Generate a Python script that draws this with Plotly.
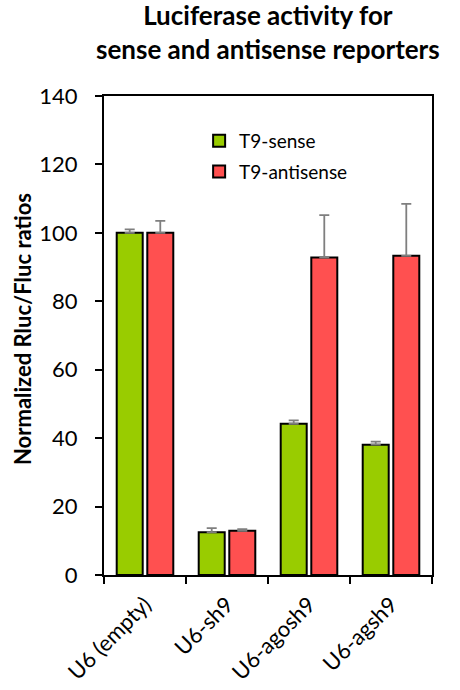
import plotly.graph_objects as go

categories = ["U6 (empty)", "U6-sh9", "U6-agosh9", "U6-agsh9"]
sense_values = [100, 12.5, 44.2, 38.1]
sense_err = [1.0, 1.2, 1.0, 0.9]
antisense_values = [100, 12.9, 92.8, 93.3]
antisense_err = [3.5, 0.5, 12.4, 15.2]
series_names = ["T9-sense", "T9-antisense"]
y_ticks = [0, 20, 40, 60, 80, 100, 120, 140]
title_lines = ["Luciferase activity for", "sense and antisense reporters"]
y_title = "Normalized Rluc/Fluc ratios"

FONT = "Lato"
GREEN = "#99CC00"
RED = "#FF5050"
ERR = "#7F7F7F"

fig = go.Figure()
for i, (name, vals, errs, col) in enumerate([
    (series_names[0], sense_values, sense_err, GREEN),
    (series_names[1], antisense_values, antisense_err, RED),
]):
    fig.add_trace(go.Bar(
        x=categories, y=vals, name=name, legendgroup="g%d" % i,
        marker=dict(color=col, line=dict(color="black", width=2)),
        error_y=dict(type="data", symmetric=False, array=errs,
                     arrayminus=[0] * len(errs), color=ERR,
                     thickness=1.8, width=5),
    ))

PL, PR, PT, PB = 104, 28, 96, 115
plot_h = 690 - PT - PB
plot_w = 460 - PL - PR

annotations = [
    dict(text="<b>%s<br>%s</b>" % (title_lines[0], title_lines[1]),
         xref="paper", yref="paper",
         x=0.5, y=(690 - PB - 32) / plot_h, xanchor="center", yanchor="middle",
         showarrow=False, font=dict(family=FONT, size=26, color="black")),
    dict(text="<b>%s</b>" % y_title, xref="paper", yref="paper",
         x=(22 - PL) / plot_w, y=(690 - PB - 329) / plot_h,
         xanchor="center", yanchor="middle", textangle=-90,
         showarrow=False, font=dict(family=FONT, size=22, color="black")),
]

fig.update_layout(
    width=460, height=690,
    margin=dict(l=PL, r=PR, t=PT, b=PB),
    paper_bgcolor="white", plot_bgcolor="white",
    barmode="group", bargap=0.254, bargroupgap=0.15,
    font=dict(family=FONT, color="black"),
    showlegend=True,
    legend=dict(
        x=0.29, y=0.946, xanchor="left", yanchor="top",
        bgcolor="rgba(0,0,0,0)", font=dict(family=FONT, size=19),
        tracegroupgap=3, itemwidth=30,
    ),
    xaxis=dict(
        type="category", tickson="boundaries", automargin=False,
        showline=True, linecolor="black", linewidth=2, mirror=True,
        ticks="outside", ticklen=7, tickwidth=2, tickcolor="black",
        tickangle=-45, tickfont=dict(family=FONT, size=22),
        ticklabelstandoff=6,
        showgrid=False, zeroline=False,
    ),
    yaxis=dict(
        range=[0, 140], tickvals=y_ticks, automargin=False,
        showline=True, linecolor="black", linewidth=2, mirror=True,
        ticks="outside", ticklen=7, tickwidth=2, tickcolor="black",
        tickfont=dict(family=FONT, size=22), ticklabelstandoff=13,
        showgrid=False, zeroline=False,
    ),
    annotations=annotations,
)

fig.write_html("out.html", config={"displayModeBar": False},
               post_script="document.body.style.margin='0px';")
